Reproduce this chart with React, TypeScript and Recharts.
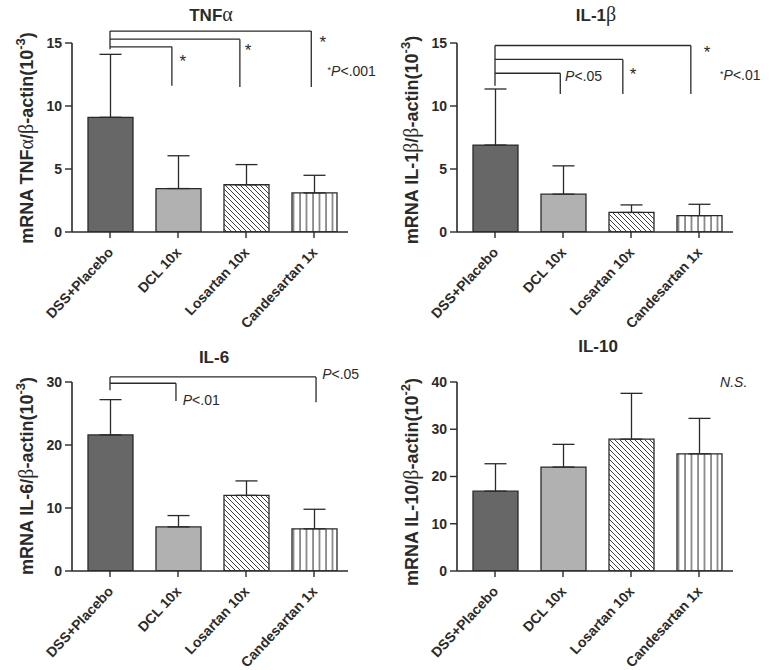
import { Bar, BarChart, Cell, ErrorBar, ReferenceDot, ReferenceLine, XAxis, YAxis } from "recharts";

const groups = ["DSS+Placebo", "DCL 10x", "Losartan 10x", "Candesartan 1x"];

const tnfMean = [9.1, 3.45, 3.75, 3.1];
const tnfSd = [5.0, 2.6, 1.6, 1.4];
const il1Mean = [6.9, 3.0, 1.55, 1.3];
const il1Sd = [4.45, 2.25, 0.6, 0.9];
const il6Mean = [21.6, 7.0, 12.0, 6.7];
const il6Sd = [5.6, 1.8, 2.3, 3.1];
const il10Mean = [16.9, 22.0, 27.9, 24.8];
const il10Sd = [5.8, 4.8, 9.7, 7.5];

const tnfTicks = [0, 5, 10, 15];
const il1Ticks = [0, 5, 10, 15];
const il6Ticks = [0, 10, 20, 30];
const il10Ticks = [0, 10, 20, 30, 40];

// brackets from the placebo group: [right end (group index), level, drop to]
const tnfBrackets = [[2.96, 15.95, 11.5], [1.91, 15.3, 11.5], [0.91, 14.7, 11.6]];
const tnfStem = [14.5, 15.95];
const il1Brackets = [[2.88, 14.8, 10.95], [1.88, 13.7, 10.95], [0.96, 12.6, 10.95]];
const il1Stem = [11.6, 14.8];
const il6Brackets = [[3.03, 30.8, 26.8], [0.97, 29.8, 27.0]];
const il6Stem = [28.7, 30.8];

// notes: [x (group index), y, text]
const tnfNotes: [number, number, string][] = [[1.07, 13.8, "*"], [2.03, 14.7, "*"], [3.13, 15.3, "*"], [3.2, 12.8, "*P<.001"]];
const il1Notes: [number, number, string][] = [[1.03, 12.4, "P<.05"], [2.03, 12.8, "*"], [3.12, 14.5, "*"], [3.31, 12.5, "*P<.01"]];
const il6Notes: [number, number, string][] = [[1.07, 27.1, "P<.01"], [3.12, 31.3, "P<.05"]];
const il10Notes: [number, number, string][] = [[3.31, 40, "N.S."]];

const fills = ["#676767", "#b1b1b1", "url(#hatchDiag)", "url(#hatchVert)"];
const ink = "#2a2a2a";
const sans = "'Liberation Sans', Arial, sans-serif";
const serif = "'Liberation Serif', 'Times New Roman', serif";

function GroupTick(props: any) {
  const { x, y, payload } = props;
  return (
    <g transform={`translate(${x + 4},${y + 13})`}>
      <text textAnchor="end" transform="rotate(-47)" fontSize={14} fontWeight={700} fill={ink} fontFamily={sans}>
        {payload.value}
      </text>
    </g>
  );
}

function Note({ cx, cy, text }: { cx: number; cy: number; text: string }) {
  if (text === "*") {
    return (
      <text x={cx} y={cy + 9} fontSize={17} fill={ink} fontFamily={sans} textAnchor="middle">
        *
      </text>
    );
  }
  if (text === "N.S.") {
    return (
      <text x={cx} y={cy + 5} fontSize={14} fontStyle="italic" fill={ink} fontFamily={sans}>
        N.S.
      </text>
    );
  }
  const star = text.startsWith("*");
  const rest = text.replace("*", "").replace("P", "");
  return (
    <text x={cx} y={cy + 5} fontSize={14} fill={ink} fontFamily={sans}>
      {star && (
        <tspan fontSize={9} dy={-3}>
          *
        </tspan>
      )}
      <tspan fontStyle="italic" dy={star ? 3 : 0}>
        P
      </tspan>
      <tspan>{rest}</tspan>
    </text>
  );
}

type PanelProps = {
  left: number;
  top: number;
  width: number;
  height: number;
  mt: number;
  mr: number;
  mb: number;
  mean: number[];
  sd: number[];
  ticks: number[];
  brackets: number[][];
  stem: number[] | null;
  notes: [number, number, string][];
};

function Panel({ left, top, width, height, mt, mr, mb, mean, sd, ticks, brackets, stem, notes }: PanelProps) {
  const rows = groups.map((g, i) => ({ group: g, idx: i, mean: mean[i], err: [0, sd[i]] }));
  const max = ticks[ticks.length - 1];
  const line = { stroke: ink, strokeWidth: 1.3 };
  return (
    <div style={{ position: "absolute", left, top }}>
      <BarChart width={width} height={height} data={rows} margin={{ top: mt, right: mr, bottom: mb, left: 0 }}>
        <XAxis
          dataKey="group"
          interval={0}
          height={90}
          padding={{ left: 4, right: 0 }}
          tickSize={6}
          tickLine={{ stroke: ink, strokeWidth: 1.4 }}
          axisLine={{ stroke: ink, strokeWidth: 1.6 }}
          tick={<GroupTick />}
        />
        <XAxis xAxisId="n" dataKey="idx" type="number" domain={[0, 3]} padding={{ left: 38, right: 34 }} allowDataOverflow hide />
        <YAxis
          width={72}
          domain={[0, max]}
          ticks={ticks}
          interval={0}
          allowDataOverflow
          tickSize={7}
          tickMargin={3}
          tickLine={{ stroke: ink, strokeWidth: 1.4 }}
          axisLine={{ stroke: ink, strokeWidth: 1.6 }}
          tick={{ fontSize: 14, fontWeight: 700, fill: ink, fontFamily: sans }}
        />
        <Bar dataKey="mean" barSize={45} stroke={ink} strokeWidth={1.3} isAnimationActive={false}>
          {rows.map((r, i) => (
            <Cell key={r.group} fill={fills[i]} />
          ))}
          <ErrorBar dataKey="err" width={11} stroke={ink} strokeWidth={1.3} direction="y" />
        </Bar>
        {stem && (
          <ReferenceLine xAxisId="n" segment={[{ x: 0, y: stem[0] }, { x: 0, y: stem[1] }]} ifOverflow="visible" {...line} />
        )}
        {brackets.map((b, i) => (
          <ReferenceLine key={`h${i}`} xAxisId="n" segment={[{ x: 0, y: b[1] }, { x: b[0], y: b[1] }]} ifOverflow="visible" {...line} />
        ))}
        {brackets.map((b, i) => (
          <ReferenceLine key={`v${i}`} xAxisId="n" segment={[{ x: b[0], y: b[1] }, { x: b[0], y: b[2] }]} ifOverflow="visible" {...line} />
        ))}
        {notes.map((n, i) => (
          <ReferenceDot
            key={`n${i}`}
            xAxisId="n"
            x={n[0]}
            y={n[1]}
            ifOverflow="visible"
            shape={(p: any) => <Note cx={p.cx} cy={p.cy} text={n[2]} />}
          />
        ))}
      </BarChart>
    </div>
  );
}

function Title({ x, y, main, greek }: { x: number; y: number; main: string; greek?: string }) {
  return (
    <text x={x} y={y} textAnchor="middle" fontSize={17} fontWeight={700} fill={ink} fontFamily={sans}>
      {main}
      {greek && (
        <tspan fontFamily={serif} fontWeight={400} fontSize={20}>
          {greek}
        </tspan>
      )}
    </text>
  );
}

function YLabel({ x, y, parts, exp }: { x: number; y: number; parts: string[]; exp: string }) {
  // parts alternate: sans text, greek letter, sans text, ...
  return (
    <text
      transform={`translate(${x},${y}) rotate(-90)`}
      textAnchor="middle"
      dy={7}
      fontSize={18}
      fontWeight={700}
      fill={ink}
      fontFamily={sans}
    >
      {parts.map((p, i) =>
        i % 2 === 1 ? (
          <tspan key={i} fontFamily={serif} fontWeight={400} fontSize={20}>
            {p}
          </tspan>
        ) : (
          <tspan key={i}>{p}</tspan>
        )
      )}
      <tspan fontSize={13} dy={-8}>
        {exp}
      </tspan>
      <tspan dy={8}>)</tspan>
    </text>
  );
}

export default function App() {
  return (
    <div style={{ position: "absolute", left: 0, top: 0, width: 769, height: 670, background: "#fff" }}>
      <style>{`.recharts-surface { overflow: visible; }`}</style>
      <Panel left={0} top={0} width={385} height={330} mt={43} mr={37} mb={8} mean={tnfMean} sd={tnfSd} ticks={tnfTicks} brackets={tnfBrackets} stem={tnfStem} notes={tnfNotes} />
      <Panel left={385} top={0} width={384} height={330} mt={43} mr={36} mb={8} mean={il1Mean} sd={il1Sd} ticks={il1Ticks} brackets={il1Brackets} stem={il1Stem} notes={il1Notes} />
      <Panel left={0} top={330} width={385} height={340} mt={52} mr={37} mb={9} mean={il6Mean} sd={il6Sd} ticks={il6Ticks} brackets={il6Brackets} stem={il6Stem} notes={il6Notes} />
      <Panel left={385} top={330} width={384} height={340} mt={52} mr={36} mb={9} mean={il10Mean} sd={il10Sd} ticks={il10Ticks} brackets={[]} stem={null} notes={il10Notes} />
      <svg width={769} height={670} style={{ position: "absolute", left: 0, top: 0, pointerEvents: "none" }}>
        <defs>
          <pattern id="hatchDiag" patternUnits="userSpaceOnUse" width={5} height={5}>
            <rect width={5} height={5} fill="#fff" />
            <path d="M0,0 L5,5 M-1,4 L1,6 M4,-1 L6,1" stroke={ink} strokeWidth={0.9} />
          </pattern>
          <pattern id="hatchVert" patternUnits="userSpaceOnUse" width={6.5} height={6.5}>
            <rect width={6.5} height={6.5} fill="#fff" />
            <path d="M1,0 L1,6.5" stroke={ink} strokeWidth={1} />
          </pattern>
        </defs>
        <Title x={211} y={21} main="TNF" greek="α" />
        <Title x={596} y={21} main="IL-1" greek="β" />
        <Title x={214} y={363} main="IL-6" />
        <Title x={598} y={352} main="IL-10" />
        <YLabel x={26} y={138} parts={["mRNA TNF", "α", "/", "β", "-actin(10"]} exp="-3" />
        <YLabel x={411} y={140} parts={["mRNA IL-1", "β", "/", "β", "-actin(10"]} exp="-3" />
        <YLabel x={26} y={476} parts={["mRNA IL-6/", "β", "-actin(10"]} exp="-3" />
        <YLabel x={411} y={482} parts={["mRNA IL-10/", "β", "-actin(10"]} exp="-2" />
      </svg>
    </div>
  );
}
